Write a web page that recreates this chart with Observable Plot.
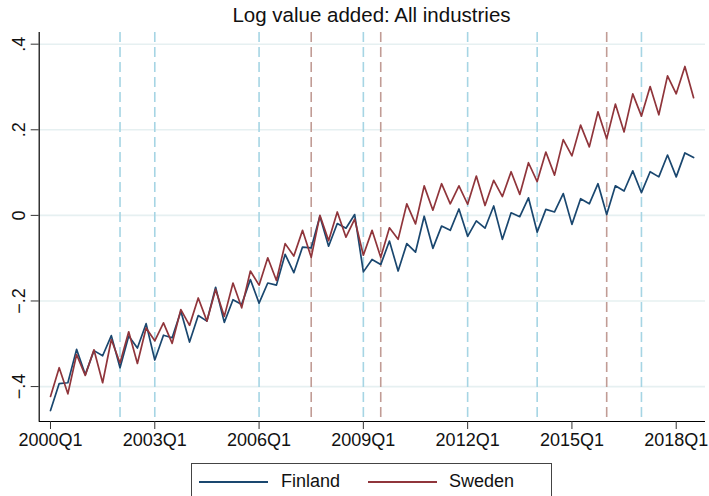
<!DOCTYPE html>
<html>
<head>
<meta charset="utf-8">
<script src="https://cdn.jsdelivr.net/npm/d3@7"></script>
<script src="https://cdn.jsdelivr.net/npm/@observablehq/plot@0.6"></script>
<style>
  html, body { margin: 0; padding: 0; background: #fff; }
  #wrap { position: relative; width: 709px; height: 496px; overflow: hidden; font-family: "Liberation Sans", Arial, sans-serif; }
  #title { position: absolute; left: 34px; width: 675px; top: 5px; text-align: center; font-size: 20.5px; line-height: 20.5px; color: #111; }
  #chart { position: absolute; left: 0; top: 28px; }
  #legend { position: absolute; left: 191px; top: 463px; width: 361px; height: 50px; border: 1px solid #444; box-sizing: border-box; }
  .sw { position: absolute; top: 17px; width: 69px; height: 2px; }
  .lt { position: absolute; top: 8px; font-size: 18px; line-height: 18px; color: #111; }
</style>
</head>
<body>
<div id="wrap">
  <div id="title">Log value added: All industries</div>
  <div id="chart"></div>
  <div id="legend"></div>
</div>
<script>
// ---- data ----
const startYear = 2000;
const finland = [
  -0.456, -0.393, -0.391, -0.313, -0.372, -0.316, -0.328, -0.281,
  -0.356, -0.282, -0.310, -0.253, -0.338, -0.280, -0.286, -0.224,
  -0.296, -0.234, -0.247, -0.168, -0.250, -0.197, -0.208, -0.150,
  -0.205, -0.158, -0.163, -0.091, -0.134, -0.074, -0.076, -0.002,
  -0.072, -0.019, -0.030, 0.002, -0.132, -0.103, -0.115, -0.060,
  -0.130, -0.066, -0.086, -0.002, -0.077, -0.025, -0.035, 0.015,
  -0.049, -0.013, -0.030, 0.022, -0.056, 0.006, -0.003, 0.041,
  -0.039, 0.014, 0.008, 0.051, -0.021, 0.039, 0.027, 0.074,
  0.002, 0.069, 0.057, 0.104, 0.053, 0.102, 0.090, 0.141,
  0.090, 0.146, 0.135
];
const sweden = [
  -0.423, -0.356, -0.417, -0.325, -0.374, -0.314, -0.391, -0.290,
  -0.345, -0.272, -0.346, -0.263, -0.293, -0.251, -0.299, -0.220,
  -0.257, -0.193, -0.247, -0.173, -0.236, -0.158, -0.216, -0.130,
  -0.163, -0.099, -0.152, -0.066, -0.095, -0.035, -0.098, 0.000,
  -0.059, 0.008, -0.051, -0.009, -0.093, -0.035, -0.098, -0.029,
  -0.056, 0.027, -0.020, 0.069, 0.012, 0.074, 0.027, 0.069,
  0.026, 0.092, 0.023, 0.082, 0.044, 0.102, 0.049, 0.123,
  0.079, 0.148, 0.094, 0.177, 0.139, 0.211, 0.160, 0.242,
  0.179, 0.260, 0.195, 0.284, 0.232, 0.301, 0.235, 0.326,
  0.284, 0.348, 0.275
];
const seriesNames = ["Finland", "Sweden"];
const seriesColors = ["#1a476f", "#90353b"];
const xTickLabels = ["2000Q1", "2003Q1", "2006Q1", "2009Q1", "2012Q1", "2015Q1", "2018Q1"];
const yTickValues = [-0.4, -0.2, 0, 0.2, 0.4];
const yTickLabels = ["\u2212.4", "\u2212.2", "0", ".2", ".4"];
const blueEvents = ["2002Q1", "2003Q1", "2006Q1", "2009Q1", "2012Q1", "2014Q1", "2017Q1"];
const brownEvents = ["2007Q3", "2009Q3", "2016Q1"];
const xDomain = [-1.3, 75.37];
const yDomain = [-0.4816, 0.4273];

// ---- helpers ----
const qIndex = (label) => (+label.slice(0, 4) - startYear) * 4 + (+label.slice(5) - 1);
const qLabel = (i) => `${startYear + Math.floor(i / 4)}Q${(i % 4) + 1}`;
const rows = [];
[finland, sweden].forEach((vals, s) => {
  vals.forEach((v, i) => rows.push({ series: seriesNames[s], quarter: qLabel(i), t: i, value: v }));
});
const yLabelMap = new Map(yTickValues.map((v, k) => [v, yTickLabels[k]]));

const chart = Plot.plot({
  width: 709,
  height: 427,
  marginLeft: 38.7,
  marginRight: 4,
  marginTop: 4,
  marginBottom: 34,
  style: { fontFamily: "Liberation Sans, Arial, sans-serif", fontSize: "18px", color: "#111", background: "transparent", overflow: "visible" },
  x: { domain: xDomain, label: null },
  y: { domain: yDomain, label: null },
  color: { domain: seriesNames, range: seriesColors },
  marks: [
    Plot.gridY(yTickValues, { stroke: "#e6f0f1", strokeOpacity: 1, strokeWidth: 1.6 }),
    Plot.ruleX(blueEvents.map(qIndex), { stroke: "#a6d5e4", strokeWidth: 1.6, strokeDasharray: "10,5" }),
    Plot.ruleX(brownEvents.map(qIndex), { stroke: "#c19c95", strokeWidth: 1.6, strokeDasharray: "10,5" }),
    Plot.line(rows, { x: "t", y: "value", z: "series", stroke: "series", strokeWidth: 1.7 }),
    Plot.ruleX([xDomain[0]], { stroke: "#000", strokeWidth: 1.2 }),
    Plot.ruleY([yDomain[0]], { stroke: "#000", strokeWidth: 1.2 }),
    Plot.axisX(xTickLabels.map(qIndex), { tickSize: 8, tickPadding: 4, tickFormat: qLabel, fontSize: 18, stroke: "#333", label: null }),
    Plot.axisY(yTickValues, { tickSize: 8, tickPadding: 6, tickRotate: -90, tickFormat: (d) => yLabelMap.get(d), fontSize: 18, stroke: "#333", label: null })
  ]
});
document.getElementById("chart").appendChild(chart);

// ---- legend ----
const legend = document.getElementById("legend");
const swLeft = [7, 176];
const txLeft = [89, 257];
seriesNames.forEach((name, k) => {
  const sw = document.createElement("div");
  sw.className = "sw";
  sw.style.left = swLeft[k] + "px";
  sw.style.background = seriesColors[k];
  legend.appendChild(sw);
  const tx = document.createElement("div");
  tx.className = "lt";
  tx.style.left = txLeft[k] + "px";
  tx.textContent = name;
  legend.appendChild(tx);
});
</script>
</body>
</html>
